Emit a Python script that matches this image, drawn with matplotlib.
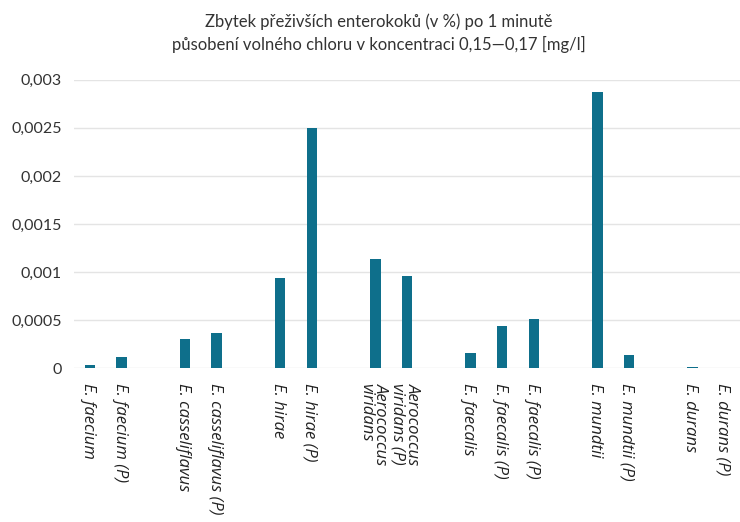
import matplotlib
matplotlib.use("Agg")
import matplotlib.pyplot as plt
import numpy as np

plt.rcParams['font.family'] = ['Lato', 'DejaVu Sans']

categories = ["E. faecium", "E. faecium (P)", "",
              "E. casseliflavus", "E. casseliflavus (P)", "",
              "E. hirae", "E. hirae (P)", "",
              "Aerococcus\nviridans", "Aerococcus\nviridans (P)", "",
              "E. faecalis", "E. faecalis (P)", "E. faecalis (P)", "",
              "E. mundtii", "E. mundtii (P)", "",
              "E. durans", "E. durans (P)"]
values = [0.00003, 0.00011, np.nan,
          0.000305, 0.00036, np.nan,
          0.00094, 0.0025, np.nan,
          0.00113, 0.00096, np.nan,
          0.00016, 0.00044, 0.00051, np.nan,
          0.002875, 0.00014, np.nan,
          0.00001, 0.0]
yticks = [0, 0.0005, 0.001, 0.0015, 0.002, 0.0025, 0.003]
ytick_labels = ["0", "0,0005", "0,001", "0,0015", "0,002", "0,0025", "0,003"]
title = "Zbytek přeživších enterokoků (v %) po 1 minutě\npůsobení volného chloru v koncentraci 0,15—0,17 [mg/l]"

fig = plt.figure(figsize=(7.4, 5.22), dpi=100)
ax = fig.add_axes([0.1, 0.295, 0.9, 0.552])

x = np.arange(len(categories))
ax.bar(x, values, width=0.33, color='#0e6f8b', zorder=3)

ax.set_xlim(-0.5, len(categories) - 0.5)
ax.set_ylim(0, 0.003)
ax.set_yticks(yticks)
ax.set_yticklabels(ytick_labels, fontsize=11.5, color='#333333')
ax.yaxis.grid(True, color='#e4e4e4', linewidth=1, zorder=0)
ax.tick_params(axis='y', length=0, pad=9)
ax.tick_params(axis='x', length=0, pad=11)
for s in ax.spines.values():
    s.set_visible(False)

ax.set_xticks(x)
ax.set_xticklabels(categories, fontsize=12, style='italic', color='#222222',
                   family=['Open Sans', 'DejaVu Sans'],
                   rotation=-90, ha='left', va='center_baseline',
                   rotation_mode='anchor', linespacing=0.95)

fig.text(0.512, 0.975, title, ha='center', va='top', fontsize=12,
         color='#333333', linespacing=1.45)

fig.savefig('out.png', dpi=100)
